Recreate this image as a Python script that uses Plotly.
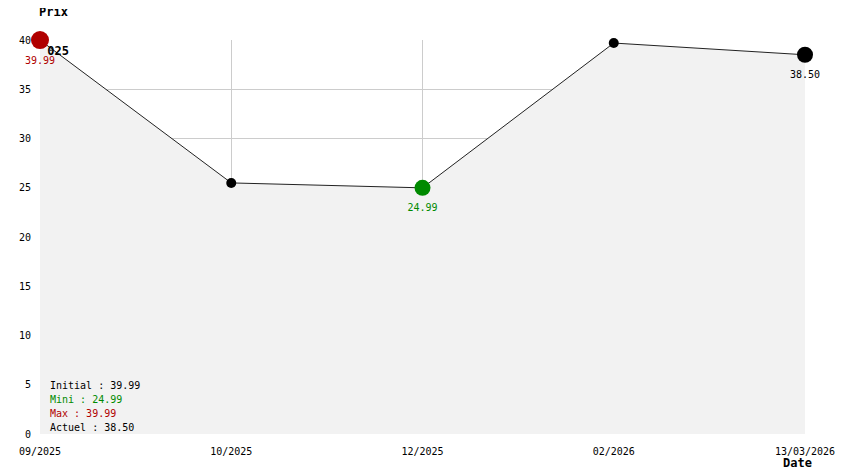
import plotly.graph_objects as go

dates = ["09/2025", "10/2025", "12/2025", "02/2026", "13/03/2026"]
prices = [39.99, 25.49, 24.99, 39.69, 38.50]
y_ticks = [0, 5, 10, 15, 20, 25, 30, 35, 40]
year_label = "025"

initial = prices[0]
mini = min(prices)
maxi = max(prices)
actuel = prices[-1]
i_min = prices.index(mini)
i_max = prices.index(maxi)

RED = "#b00000"
GREEN = "#008a00"
FONT = "DejaVu Sans Mono"
CLEAR = "rgba(0,0,0,0)"
NBSP = "\u00a0"

xs = list(range(len(dates)))

fig = go.Figure()

# filled line
fig.add_trace(go.Scatter(
    x=xs, y=prices, mode="lines+markers",
    line=dict(color="#222222", width=1),
    marker=dict(color="black", size=10),
    fill="tozeroy", fillcolor="#f2f2f2",
    cliponaxis=False, hoverinfo="skip", showlegend=False,
))

# bold year fragment next to the first marker
fig.add_trace(go.Scatter(
    x=[xs[0]], y=[prices[0]], mode="markers+text",
    text=["<b>" + NBSP * 5 + year_label + "</b>"],
    textposition="bottom center",
    marker=dict(color=CLEAR, size=8),
    textfont=dict(family=FONT, size=12, color="black"),
    cliponaxis=False, hoverinfo="skip", showlegend=False,
))

# highlighted markers
for idx, col, sz in [(i_max, RED, 18), (i_min, GREEN, 16), (len(prices) - 1, "black", 16)]:
    fig.add_trace(go.Scatter(
        x=[xs[idx]], y=[prices[idx]], mode="markers",
        marker=dict(color=col, size=sz),
        cliponaxis=False, hoverinfo="skip", showlegend=False,
    ))
    fig.add_trace(go.Scatter(
        x=[xs[idx]], y=[prices[idx]], mode="markers+text",
        text=[f"{prices[idx]:.2f}"], textposition="bottom center",
        textfont=dict(family=FONT, size=10, color=col),
        marker=dict(color=CLEAR, size=24),
        cliponaxis=False, hoverinfo="skip", showlegend=False,
    ))

summary_lines = [
    (f"Initial : {initial:.2f}", "black", 49),
    (f"Mini : {mini:.2f}", GREEN, 35),
    (f"Max : {maxi:.2f}", RED, 21),
    (f"Actuel : {actuel:.2f}", "black", 7),
]

annotations = [
    dict(text="<b>Prix</b>", xref="paper", yref="paper", x=0.0, y=1.0,
         yshift=28, xshift=13, xanchor="center", yanchor="middle",
         showarrow=False, font=dict(family=FONT, size=12, color="black")),
    dict(text="<b>Date</b>", xref="paper", yref="paper", x=1.0, y=0,
         yshift=-29, xshift=-8, xanchor="center", yanchor="middle",
         showarrow=False, font=dict(family=FONT, size=12, color="black")),
]
for txt, col, dy in summary_lines:
    annotations.append(dict(
        text=txt, xref="paper", yref="paper", x=0.0, y=0.0,
        xshift=8, yshift=dy, xanchor="left", yanchor="middle",
        align="left", showarrow=False,
        font=dict(family=FONT, size=10, color=col)))

# page body has an 8px margin: figure is sized/offset to compensate
fig.update_layout(
    width=836, height=466,
    margin=dict(l=32, r=39, t=32, b=40),
    paper_bgcolor="white", plot_bgcolor="white",
    font=dict(family=FONT, size=10, color="black"),
    xaxis=dict(
        range=[0, len(dates) - 1], tickvals=xs, ticktext=dates,
        showgrid=True, gridcolor="#cccccc", gridwidth=1,
        zeroline=False, showline=False, automargin=False,
        ticks="outside", ticklen=8, tickcolor=CLEAR,
        tickfont=dict(family=FONT, size=10, color="black"),
    ),
    yaxis=dict(
        range=[0, 40], tickvals=y_ticks,
        showgrid=True, gridcolor="#cccccc", gridwidth=1,
        zeroline=False, showline=False, automargin=False,
        ticks="outside", ticklen=6, tickcolor=CLEAR,
        tickfont=dict(family=FONT, size=10, color="black"),
    ),
    annotations=annotations,
)

fig.write_html("out.html")
